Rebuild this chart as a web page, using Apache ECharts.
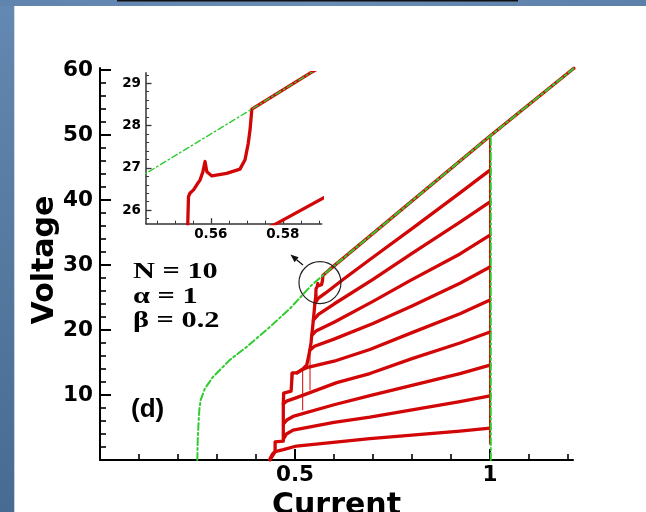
<!DOCTYPE html>
<html>
<head>
<meta charset="utf-8">
<script src="https://cdn.jsdelivr.net/npm/echarts@6/dist/echarts.min.js"></script>
<style>
  html, body { margin: 0; padding: 0; background: #ffffff; }
  #chart { width: 646px; height: 512px; }
</style>
</head>
<body>
<div id="chart"></div>
<script>
// ---- Envelope branch (every junction resistive), green dash-dot ----
const envI = [0.2495, 0.2505, 0.2525, 0.2546, 0.258, 0.269, 0.29, 0.333, 0.376, 0.436, 0.487, 0.542, 0.5714, 0.5878, 1.0, 1.215];
const envV = [0, 3.0, 5.5, 7.7, 9.2, 11.0, 12.8, 15.4, 17.4, 20.5, 23.3, 26.87, 28.39, 29.25, 49.85, 60.26];
const envDropI = [1.002, 1.002];
const envDropV = [0, 49.85];

// ---- Resistive branches with k switched junctions (red) ----
const b1I = [0.436, 0.442, 0.449, 0.47, 0.504, 0.692, 0.923, 1.0];
const b1V = [0.2, 0.9, 1.3, 1.6, 2.15, 3.3, 4.45, 4.9];
const b2I = [0.471, 0.478, 0.495, 0.6, 0.692, 0.923, 1.0];
const b2V = [3.3, 4.0, 4.6, 5.8, 6.6, 9.0, 9.85];
const b3I = [0.471, 0.48, 0.495, 0.6, 0.692, 0.855, 0.923, 1.0];
const b3V = [5.6, 6.2, 6.7, 8.5, 9.9, 12.3, 13.3, 14.6];
const b4I = [0.47, 0.48, 0.504, 0.607, 0.692, 0.8, 0.923, 1.0];
const b4V = [8.6, 9.1, 9.6, 11.9, 13.3, 15.6, 18.0, 19.7];
const b5I = [0.505, 0.515, 0.53, 0.6, 0.692, 0.8, 0.923, 1.0];
const b5V = [13.4, 13.8, 14.2, 15.2, 17.0, 19.6, 22.5, 24.6];
const b6I = [0.538, 0.55, 0.6, 0.7, 0.8, 0.923, 1.0];
const b6V = [16.9, 17.5, 18.6, 21.0, 23.7, 27.2, 29.7];
const b7I = [0.543, 0.555, 0.6, 0.7, 0.795, 0.923, 1.0];
const b7V = [19.2, 19.9, 21.2, 24.4, 27.6, 31.7, 34.6];
const b8I = [0.547, 0.56, 0.6, 0.7, 0.8, 0.923, 1.0];
const b8V = [21.5, 22.4, 24.0, 27.8, 31.8, 36.6, 39.7];
const b9I = [0.551, 0.56, 0.5786, 0.624, 0.7, 0.8, 0.923, 1.0];
const b9V = [24.1, 24.9, 25.7, 27.8, 31.2, 35.6, 41.1, 44.6];
const b10I = [0.5535, 0.5536, 0.5538, 0.5542, 0.5552, 0.5561, 0.557, 0.5578, 0.5584, 0.5589, 0.5603, 0.5644, 0.5681, 0.5695, 0.5704, 0.5709, 0.5714, 0.5878, 1.0, 1.215];
const b10V = [25.3, 25.68, 26.32, 26.4, 26.48, 26.6, 26.71, 26.91, 27.15, 26.91, 26.81, 26.87, 26.97, 27.19, 27.58, 27.9, 28.39, 29.25, 49.85, 60.26];

// ---- Upward sweep: switching staircase between branches ----
const sweepI = [0.436, 0.449, 0.449, 0.47, 0.47, 0.47, 0.471, 0.49, 0.493, 0.505, 0.52, 0.53, 0.535, 0.538, 0.541, 0.543, 0.545, 0.547, 0.549, 0.551, 0.5535];
const sweepV = [0.0, 1.3, 2.8, 2.9, 3.3, 8.6, 10.3, 10.6, 13.4, 13.4, 14.0, 14.6, 16.0, 16.9, 18.0, 19.2, 20.3, 21.5, 22.8, 24.1, 25.3];
// return along I = 1
const dropI = [1.0, 1.0];
const dropV = [2.5, 49.85];
// short retrapping jumps
const jumpsI = [[0.49, 0.49], [0.5197, 0.5197], [0.5385, 0.5385]];
const jumpsV = [[13.4, 11.6], [14.0, 7.7], [16.9, 10.8]];

// ---- Tick positions ----
const mainXMajor = [0.5, 1];
const mainXMinor = [0.1, 0.2, 0.3, 0.4, 0.6, 0.7, 0.8, 0.9, 1.1, 1.2];
const mainYMajor = [10, 20, 30, 40, 50, 60];
const mainYMinor = [2, 4, 6, 8, 12, 14, 16, 18, 22, 24, 26, 28, 32, 34, 36, 38, 42, 44, 46, 48, 52, 54, 56, 58];
const insetXMajor = [0.56, 0.58];
const insetXMinor = [0.545, 0.55, 0.555, 0.565, 0.57, 0.575, 0.585, 0.59];
const insetYMajor = [26, 27, 28, 29];
const insetYMinor = [25.8, 26.2, 26.4, 26.6, 26.8, 27.2, 27.4, 27.6, 27.8, 28.2, 28.4, 28.6, 28.8, 29.2];

const RED = '#d20606';
const GREEN = '#2fcc2f';
const SANS = 'DejaVu Sans';

const pairs = (xs, ys) => xs.map((x, i) => [x, ys[i]]);

const chart = echarts.init(document.getElementById('chart'), null, { renderer: 'canvas' });

function axisPair(kind, grid, min, max, major, minor, opts) {
  const base = { type: 'value', gridIndex: grid, min: min, max: max, splitLine: { show: false },
                 position: kind === 'x' ? 'bottom' : 'left', offset: 0 };
  const majorAxis = Object.assign({}, base, {
    axisLine: { show: true, onZero: false, lineStyle: { color: opts.color, width: opts.lineWidth } },
    axisTick: { show: true, inside: true, customValues: major, length: opts.majorLen,
                lineStyle: { color: opts.color, width: opts.tickWidth } },
    axisLabel: { show: true, customValues: major, margin: opts.margin, color: '#000',
                 fontFamily: SANS, fontWeight: 'bold', fontSize: opts.fontSize },
    minorTick: { show: false }
  }, opts.extra || {});
  const minorAxis = Object.assign({}, base, {
    axisLine: { show: false, onZero: false },
    axisTick: { show: true, inside: true, customValues: minor, length: opts.minorLen,
                lineStyle: { color: opts.color, width: opts.tickWidth * 0.8 } },
    axisLabel: { show: false }
  });
  return [majorAxis, minorAxis];
}

const mainOpts = { color: '#000', lineWidth: 2, tickWidth: 2, majorLen: 11, minorLen: 6, margin: 7, fontSize: 21.5 };
const insetOpts = { color: '#333', lineWidth: 1.5, tickWidth: 1.3, majorLen: 5.5, minorLen: 3, margin: 5, fontSize: 13.5 };

const xAxes = [
  ...axisPair('x', 0, 0, 1.2128, mainXMajor, mainXMinor, Object.assign({}, mainOpts, { margin: 4, extra: {
    name: 'Current', nameLocation: 'middle', nameGap: 17,
    nameTextStyle: { fontFamily: SANS, fontWeight: 'bold', fontSize: 30, color: '#000' } } })),
  ...axisPair('x', 1, 0.542, 0.5908, insetXMajor, insetXMinor, Object.assign({}, insetOpts, { margin: 4 }))
];
const yAxes = [
  ...axisPair('y', 0, 0, 60.31, mainYMajor, mainYMinor, mainOpts),
  ...axisPair('y', 1, 25.68, 29.25, insetYMajor, insetYMinor, insetOpts)
];

const branches = [
  [b1I, b1V], [b2I, b2V], [b3I, b3V], [b4I, b4V], [b5I, b5V],
  [b6I, b6V], [b7I, b7V], [b8I, b8V], [b9I, b9V], [b10I, b10V]
];

function lineSeries(data, grid, color, width, dash, z) {
  return {
    type: 'line', data: data, xAxisIndex: grid * 2, yAxisIndex: grid * 2,
    showSymbol: false, symbol: 'none', silent: true, animation: false, z: z,
    clip: true,
    lineStyle: { color: color, width: width, type: dash || 'solid', join: 'round', cap: 'round' }
  };
}

const series = [];
[0, 1].forEach(g => {
  const w = g === 0 ? 3.3 : 3.3;
  branches.forEach(b => series.push(lineSeries(pairs(b[0], b[1]), g, RED, w, null, 2)));
  series.push(lineSeries(pairs(sweepI, sweepV), g, RED, w, null, 2));
  series.push(lineSeries(pairs(dropI, dropV), g, RED, 2, null, 2));
  jumpsI.forEach((j, i) => series.push(lineSeries(pairs(j, jumpsV[i]), g, RED, 1, null, 2)));
  const gw = g === 0 ? 2 : 1.4;
  const pat = g === 0 ? [7, 3, 2, 3] : [6, 3, 1.5, 3];
  series.push(lineSeries(pairs(envI, envV), g, GREEN, gw, pat, 3));
  series.push(lineSeries(pairs(envDropI, envDropV), g, GREEN, gw, pat, 3));
});

chart.setOption({
  backgroundColor: '#ffffff',
  animation: false,
  grid: [
    { left: 100, top: 68, width: 473, height: 392, containLabel: false, outerBoundsMode: 'none' },
    { left: 146, top: 72.7, width: 175.7, height: 151, containLabel: false, outerBoundsMode: 'none' }
  ],
  xAxis: xAxes,
  yAxis: yAxes,
  series: series
});

// annotations: magnifier circle with arrow, parameter block, panel tag, axis title, page frame
const c = chart.convertToPixel({ gridIndex: 0 }, [0.564, 27.3]);
const tail = [c[0] - 17, c[1] - 17.5];
const tip = [c[0] - 29.5, c[1] - 28];
const dx = tip[0] - tail[0], dy = tip[1] - tail[1];
const len = Math.hypot(dx, dy), ux = dx / len, uy = dy / len;
const headBase = [tip[0] - ux * 8, tip[1] - uy * 8];
const head = [tip, [headBase[0] - uy * 3.2, headBase[1] + ux * 3.2], [headBase[0] + uy * 3.2, headBase[1] - ux * 3.2]];

const serif = (txt, y) => ({
  type: 'text', x: 133, y: y, scaleX: 1.35, z: 10,
  style: { text: txt, x: 0, y: 0, textAlign: 'left', textVerticalAlign: 'middle',
           font: 'bold 22.5px "Liberation Serif", "Times New Roman", serif', fill: '#000' }
});

chart.setOption({
  graphic: [
    { type: 'rect', z: -10, shape: { x: 0, y: 0, width: 14.3, height: 512 },
      style: { fill: new echarts.graphic.LinearGradient(0, 0, 1, 1, [
        { offset: 0, color: '#6489b2' }, { offset: 0.5, color: '#55799f' }, { offset: 1, color: '#486b93' }]) } },
    { type: 'rect', z: -10, shape: { x: 0, y: 0, width: 646, height: 6 },
      style: { fill: new echarts.graphic.LinearGradient(0, 0, 1, 0, [
        { offset: 0, color: '#5f84ad' }, { offset: 0.5, color: '#6a8db5' }, { offset: 1, color: '#5b80a9' }]) } },
    { type: 'rect', z: -9, shape: { x: 117, y: 0, width: 401, height: 1.5 }, style: { fill: '#111' } },
    { type: 'text', x: 45, y: 260, rotation: Math.PI / 2, z: 10,
      style: { text: 'Voltage', x: 0, y: 0, textAlign: 'center', textVerticalAlign: 'middle',
               font: 'bold 30px "DejaVu Sans", sans-serif', fill: '#000' } },
    { type: 'circle', z: 10, shape: { cx: c[0], cy: c[1], r: 21 },
      style: { fill: 'none', stroke: '#222', lineWidth: 1.2 } },
    { type: 'line', z: 10, shape: { x1: tail[0], y1: tail[1], x2: headBase[0], y2: headBase[1] },
      style: { stroke: '#111', lineWidth: 1.3 } },
    { type: 'polygon', z: 10, shape: { points: head }, style: { fill: '#111' } },
    serif('N = 10', 272),
    serif('\u03b1 = 1', 297),
    serif('\u03b2 = 0.2', 321),
    { type: 'text', x: 131, y: 410, z: 10,
      style: { text: '(d)', textAlign: 'left', textVerticalAlign: 'middle',
               font: 'bold 26px "Liberation Sans", Arial, sans-serif', fill: '#000' } }
  ]
});
</script>
</body>
</html>
